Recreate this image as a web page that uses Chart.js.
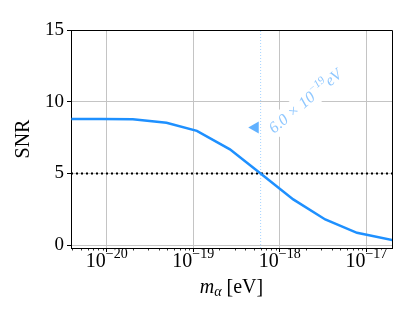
<!DOCTYPE html>
<html>
<head>
<meta charset="utf-8">
<script src="https://cdn.jsdelivr.net/npm/chart.js@4/dist/chart.umd.min.js"></script>
<style>
  html, body { margin: 0; padding: 0; background: #fff; }
  #wrap { width: 415px; height: 320px; }
</style>
</head>
<body>
<div id="wrap"><canvas id="snrChart" width="415" height="320"></canvas></div>
<script>
// ─── Data ─────────────────────────────────────────────────
const massEV = [3.9e-21, 8.6e-21, 2.0e-20, 4.9e-20, 1.1e-19, 2.65e-19, 6.2e-19, 1.43e-18, 3.35e-18, 7.8e-18, 2.0e-17];
const snrValues = [8.80, 8.79, 8.77, 8.53, 7.97, 6.68, 4.92, 3.19, 1.79, 0.86, 0.35];
const xTicks = [1e-20, 1e-19, 1e-18, 1e-17];
const xTickExponents = ['−20', '−19', '−18', '−17'];
const yTicks = [0, 5, 10, 15];
const xRange = [3.86e-21, 1.98e-17];
const yRange = [-0.2, 15];
const snrThreshold = 5;
const massLimit = 6.0e-19;
const labelParts = ['6.0 × 10', '−19', 'eV'];   // base, exponent, unit
const markerMass = [5.2e-19];
const markerSnr = [8.2];
const labelMass = 2.0e-18;
const labelSnr = 10.0;

const SERIF = '"Liberation Serif", "DejaVu Serif", serif';
Chart.defaults.font.family = SERIF;
Chart.defaults.color = '#000';

// draw "base^exp" pieces in a row, centred on 0
function drawPieces(ctx, parts, x, y) {
  let total = 0;
  parts.forEach(p => { ctx.font = p.f; p.w = ctx.measureText(p.t).width; total += p.w; });
  let px = x - total / 2;
  parts.forEach(p => {
    ctx.font = p.f;
    ctx.fillText(p.t, px, y + p.dy);
    px += p.w;
  });
  return total;
}

// ─── Plugins ──────────────────────────────────────────────

const framePlugin = {
  id: 'frame',
  afterDraw(chart) {
    const { ctx, chartArea: a, scales } = chart;
    const x = scales.x;
    ctx.save();
    // top and right spines
    ctx.strokeStyle = '#000';
    ctx.lineWidth = 1;
    ctx.beginPath();
    ctx.moveTo(a.left, a.top + 0.5);
    ctx.lineTo(a.right + 0.5, a.top + 0.5);
    ctx.lineTo(a.right + 0.5, a.bottom);
    ctx.stroke();

    // minor log ticks on x
    ctx.lineWidth = 0.8;
    ctx.beginPath();
    for (let n = -22; n <= -16; n++) {
      for (let k = 2; k <= 9; k++) {
        const v = k * Math.pow(10, n);
        if (v < xRange[0] || v > xRange[1]) continue;
        const px = Math.round(x.getPixelForValue(v)) + 0.5;
        ctx.moveTo(px, a.bottom);
        ctx.lineTo(px, a.bottom + 2.5);
      }
    }
    ctx.stroke();

    // x tick labels 10^n
    ctx.fillStyle = '#000';
    ctx.textBaseline = 'alphabetic';
    xTicks.forEach((v, i) => {
      drawPieces(ctx, [
        { t: '10', f: '20px ' + SERIF, dy: 0 },
        { t: xTickExponents[i], f: '14px ' + SERIF, dy: -9 }
      ], x.getPixelForValue(v), 267);
    });

    // x title with subscript
    ctx.textBaseline = 'middle';
    drawPieces(ctx, [
      { t: 'm', f: 'italic 20px ' + SERIF, dy: 0 },
      { t: 'α', f: 'italic 14px ' + SERIF, dy: 4 },
      { t: ' [eV]', f: '20px ' + SERIF, dy: 0 }
    ], (a.left + a.right) / 2, 288);
    ctx.restore();
  },
  afterDatasetsDraw(chart) {
    const { ctx, scales } = chart;
    const lx = scales.x.getPixelForValue(labelMass);
    const ly = scales.y.getPixelForValue(labelSnr);
    const parts = [
      { t: labelParts[0], f: 'italic 16px ' + SERIF, dy: 0 },
      { t: labelParts[1], f: 'italic 11px ' + SERIF, dy: -6 },
      { t: labelParts[2], f: 'italic 16px ' + SERIF, dy: 0 }
    ];
    ctx.save();
    ctx.translate(lx, ly);
    ctx.rotate(-40 * Math.PI / 180);
    let total = 0;
    parts.forEach(p => { ctx.font = p.f; total += ctx.measureText(p.t).width; });
    ctx.fillStyle = '#fff';
    ctx.fillRect(-total / 2 - 3, -11, total + 6, 21);
    ctx.fillStyle = 'rgba(30,144,255,0.5)';
    ctx.textBaseline = 'middle';
    drawPieces(ctx, parts, 0, 0);
    ctx.restore();
  }
};

// ─── Chart ────────────────────────────────────────────────

const ctx = document.getElementById('snrChart').getContext('2d');
new Chart(ctx, {
  type: 'line',
  data: {
    datasets: [
      {
        label: 'SNR',
        data: massEV.map((m, i) => ({ x: m, y: snrValues[i] })),
        borderColor: '#1e90ff',
        borderWidth: 2.5,
        pointRadius: 0,
        tension: 0,
        order: 1
      },
      {
        label: 'threshold',
        data: [{ x: xRange[0], y: snrThreshold }, { x: xRange[1], y: snrThreshold }],
        borderColor: '#000',
        borderWidth: 2,
        borderDash: [2, 3],
        pointRadius: 0,
        order: 2
      },
      {
        label: 'limit',
        data: [{ x: massLimit, y: yRange[0] }, { x: massLimit, y: yRange[1] }],
        borderColor: 'rgba(30,144,255,0.4)',
        borderWidth: 1,
        borderDash: [1, 2],
        pointRadius: 0,
        order: 3
      },
      {
        type: 'scatter',
        label: 'marker',
        data: markerMass.map((m, i) => ({ x: m, y: markerSnr[i] })),
        pointStyle: 'triangle',
        rotation: -90,
        pointRadius: 7,
        backgroundColor: 'rgba(30,144,255,0.7)',
        borderWidth: 0,
        order: 0
      }
    ]
  },
  options: {
    responsive: false,
    animation: false,
    layout: { padding: { top: 30, right: 23, left: 0, bottom: 0 } },
    plugins: { legend: { display: false }, tooltip: { enabled: false } },
    scales: {
      x: {
        type: 'logarithmic',
        min: xRange[0],
        max: xRange[1],
        afterFit: s => { s.height = 72; },
        afterBuildTicks: s => { s.ticks = xTicks.map(v => ({ value: v })); },
        ticks: { display: false },
        grid: { color: '#c4c4c4', lineWidth: 1, tickLength: 4, tickColor: '#000' },
        border: { display: true, color: '#000', width: 1 }
      },
      y: {
        min: yRange[0],
        max: yRange[1],
        afterFit: s => { s.width = 71; },
        afterBuildTicks: s => { s.ticks = yTicks.map(v => ({ value: v })); },
        ticks: { padding: 3, font: { size: 19 } },
        grid: { color: '#c4c4c4', lineWidth: 1, tickLength: 4, tickColor: '#000' },
        border: { display: true, color: '#000', width: 1 },
        title: { display: true, text: 'SNR', font: { size: 20 }, padding: { top: 12, bottom: 0 } }
      }
    }
  },
  plugins: [framePlugin]
});
</script>
</body>
</html>
